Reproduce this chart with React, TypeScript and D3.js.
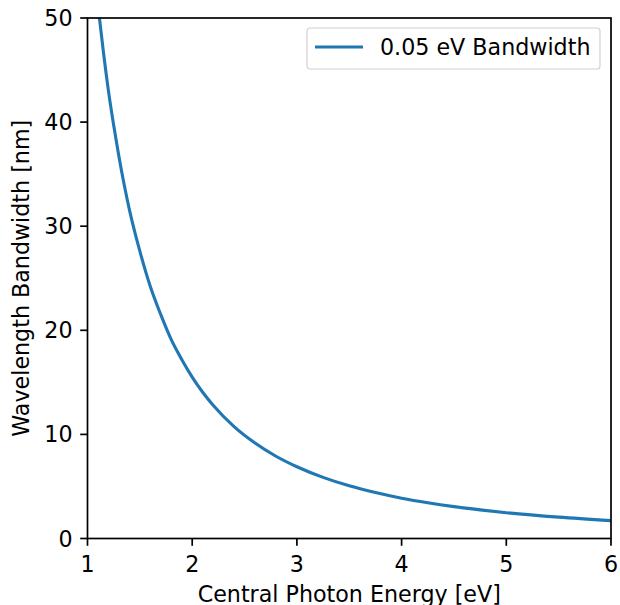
import * as d3 from "d3";
import React from "react";

// central photon energy [eV]
const energies = [
  1.0, 1.05, 1.1, 1.15, 1.2, 1.25, 1.3, 1.35, 1.4, 1.45, 1.5, 1.6, 1.7, 1.8, 1.9, 2.0,
  2.1, 2.2, 2.4, 2.6, 2.8, 3.0, 3.25, 3.5, 3.75, 4.0, 4.25, 4.5, 4.75, 5.0, 5.5, 6.0,
];
// wavelength bandwidth [nm] for a 0.05 eV bandwidth
const bandwidths = [
  62.0, 56.2, 51.2, 46.9, 43.0, 39.7, 36.7, 34.0, 31.6, 29.5, 27.6, 24.2, 21.5, 19.1, 17.2, 15.5,
  14.05, 12.8, 10.75, 9.17, 7.9, 6.89, 5.87, 5.06, 4.41, 3.87, 3.43, 3.06, 2.75, 2.48, 2.05, 1.72,
];
const xTicks = [1, 2, 3, 4, 5, 6];
const yTicks = [0, 10, 20, 30, 40, 50];
const seriesLabel = "0.05 eV Bandwidth";

const W = 620;
const H = 605;
const margin = { top: 18, right: 9, bottom: 66.5, left: 87.5 };
const color = "#1f77b4";
const font = "DejaVu Sans, sans-serif";
const fs = 22.2;

export default function App() {
  const innerW = W - margin.left - margin.right;
  const innerH = H - margin.top - margin.bottom;
  const x = d3.scaleLinear().domain([1, 6]).range([0, innerW]);
  const y = d3.scaleLinear().domain([0, 50]).range([innerH, 0]);
  const points = energies.map((e, i) => [e, bandwidths[i]] as [number, number]);
  const line = d3
    .line<[number, number]>()
    .x((d) => x(d[0]))
    .y((d) => y(d[1]))
    .curve(d3.curveMonotoneX);

  return (
    <svg width={W} height={H} style={{ position: "absolute", left: 0, top: 0 }} fontFamily={font}>
      <rect width={W} height={H} fill="#fff" />
      <defs>
        <clipPath id="plot">
          <rect width={innerW} height={innerH} />
        </clipPath>
      </defs>
      <g transform={`translate(${margin.left},${margin.top})`}>
        <path d={line(points) ?? ""} fill="none" stroke={color} strokeWidth={3.1} clipPath="url(#plot)" />
        <rect width={innerW} height={innerH} fill="none" stroke="#000" strokeWidth={1.7} />
        {xTicks.map((t) => (
          <g key={t} transform={`translate(${x(t)},${innerH})`}>
            <line y2={7.3} stroke="#000" strokeWidth={1.7} />
            <text y={33} textAnchor="middle" fontSize={fs}>
              {t}
            </text>
          </g>
        ))}
        {yTicks.map((t) => (
          <g key={t} transform={`translate(0,${y(t)})`}>
            <line x2={-7.3} stroke="#000" strokeWidth={1.7} />
            <text x={-15} dy="0.36em" textAnchor="end" fontSize={fs}>
              {t}
            </text>
          </g>
        ))}
        <text x={innerW / 2} y={innerH + 63} textAnchor="middle" fontSize={fs}>
          Central Photon Energy [eV]
        </text>
        <text
          transform={`translate(${-59},${innerH / 2}) rotate(-90)`}
          textAnchor="middle"
          fontSize={fs}
        >
          Wavelength Bandwidth [nm]
        </text>
        <g transform={`translate(${219.5},${10})`}>
          <rect width={293} height={41} rx={3} fill="#fff" stroke="#d0d0d0" strokeWidth={1.2} />
          <line x1={8} x2={56} y1={19} y2={19} stroke={color} strokeWidth={3.1} />
          <text x={73} y={27} fontSize={fs}>
            {seriesLabel}
          </text>
        </g>
      </g>
    </svg>
  );
}
